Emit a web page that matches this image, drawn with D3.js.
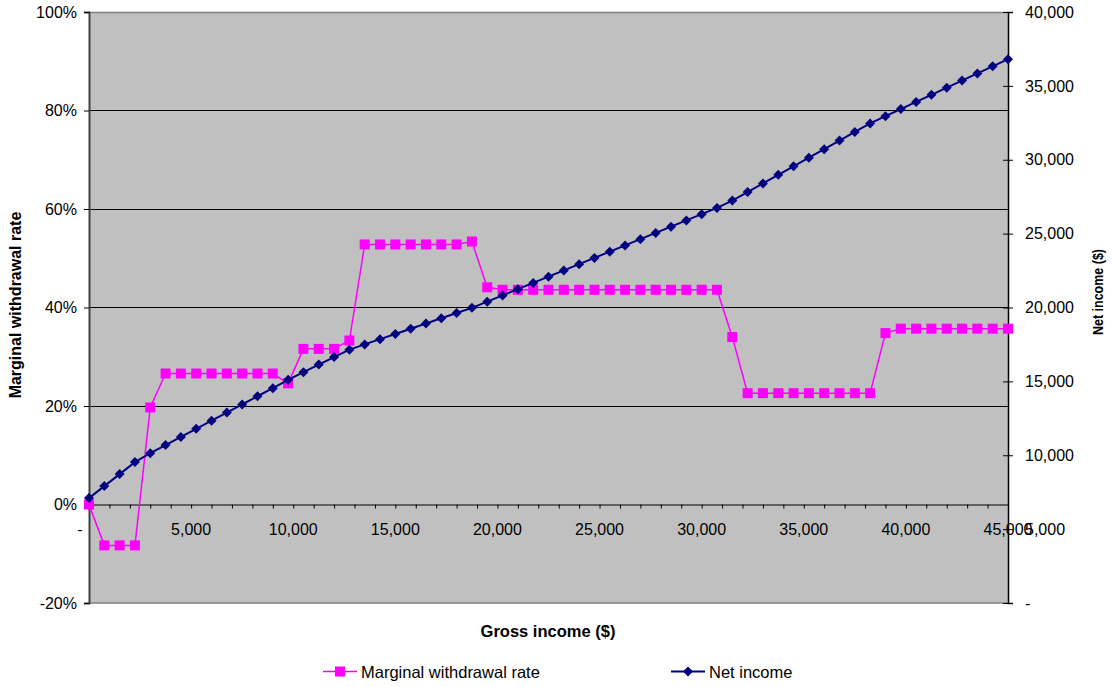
<!DOCTYPE html>
<html>
<head>
<meta charset="utf-8">
<script src="https://cdn.jsdelivr.net/npm/d3@7/dist/d3.min.js"></script>
<style>
  html, body { margin: 0; padding: 0; background: #fff; }
  svg { display: block; font-family: "Liberation Sans", Arial, sans-serif; }
</style>
</head>
<body>
<svg id="chart" width="1114" height="687"></svg>
<script>
// ---- Data ----
const grossIncome = [0, 750, 1500, 2250, 3000, 3750, 4500, 5250, 6000, 6750,
  7500, 8250, 9000, 9750, 10500, 11250, 12000, 12750, 13500, 14250,
  15000, 15750, 16500, 17250, 18000, 18750, 19500, 20250, 21000, 21750,
  22500, 23250, 24000, 24750, 25500, 26250, 27000, 27750, 28500, 29250,
  30000, 30750, 31500, 32250, 33000, 33750, 34500, 35250, 36000, 36750,
  37500, 38250, 39000, 39750, 40500, 41250, 42000, 42750, 43500, 44250, 45000];

const marginalRate = [0.000, -0.083, -0.083, -0.083, 0.197, 0.266, 0.266, 0.266, 0.266, 0.266,
  0.266, 0.266, 0.266, 0.246, 0.316, 0.316, 0.316, 0.333, 0.528, 0.528,
  0.528, 0.528, 0.528, 0.528, 0.528, 0.534, 0.441, 0.436, 0.436, 0.436,
  0.436, 0.436, 0.436, 0.436, 0.436, 0.436, 0.436, 0.436, 0.436, 0.436,
  0.436, 0.436, 0.340, 0.226, 0.226, 0.226, 0.226, 0.226, 0.226, 0.226,
  0.226, 0.226, 0.348, 0.357, 0.357, 0.357, 0.357, 0.357, 0.357, 0.357, 0.357];

const netIncome = [7100, 7912, 8724, 9537, 10139, 10690, 11240, 11791, 12341, 12892,
  13442, 13993, 14543, 15109, 15622, 16135, 16648, 17148, 17502, 17856,
  18210, 18564, 18918, 19272, 19626, 19976, 20395, 20818, 21241, 21664,
  22087, 22510, 22933, 23356, 23779, 24202, 24625, 25048, 25471, 25894,
  26317, 26740, 27235, 27816, 28396, 28977, 29557, 30138, 30718, 31299,
  31879, 32460, 32949, 33431, 33913, 34395, 34877, 35359, 35841, 36323, 36805];

const xTickValues = [0, 5000, 10000, 15000, 20000, 25000, 30000, 35000, 40000, 45000];
const xTickLabels = ["-", "5,000", "10,000", "15,000", "20,000", "25,000", "30,000", "35,000", "40,000", "45,000"];
const leftTickValues = [-0.2, 0, 0.2, 0.4, 0.6, 0.8, 1.0];
const leftTickLabels = ["-20%", "0%", "20%", "40%", "60%", "80%", "100%"];
const rightTickValues = [0, 5000, 10000, 15000, 20000, 25000, 30000, 35000, 40000];
const rightTickLabels = ["-", "5,000", "10,000", "15,000", "20,000", "25,000", "30,000", "35,000", "40,000"];
const seriesNames = ["Marginal withdrawal rate", "Net income"];
const xTitle = "Gross income ($)";
const leftTitle = "Marginal withdrawal rate";
const rightTitle = "Net income ($)";

// ---- Layout ----
const L = 89, R = 1008, T = 12, B = 603;
const svg = d3.select("#chart");

const x = d3.scaleLinear().domain([0, 45000]).range([L, R]);
const yL = d3.scaleLinear().domain([-0.2, 1.0]).range([B, T]);
const yR = d3.scaleLinear().domain([0, 40000]).range([B, T]);

const magenta = "#FF00FF", navy = "#000080";
const tickFont = 16;

// Plot area
svg.append("rect").attr("x", L).attr("y", T).attr("width", R - L).attr("height", B - T)
  .attr("fill", "#C0C0C0");

// gridlines
svg.append("g").selectAll("line").data([0.2, 0.4, 0.6, 0.8]).join("line")
  .attr("x1", L).attr("x2", R).attr("y1", d => yL(d)).attr("y2", d => yL(d))
  .attr("stroke", "#000").attr("stroke-width", 1).attr("shape-rendering", "crispEdges");

// top & bottom borders
svg.append("line").attr("x1", L).attr("x2", R).attr("y1", T + 0.5).attr("y2", T + 0.5)
  .attr("stroke", "#808080").attr("stroke-width", 1.5);
svg.append("line").attr("x1", L).attr("x2", R).attr("y1", B).attr("y2", B)
  .attr("stroke", "#808080").attr("stroke-width", 1.5);

// Left axis
const leftAxis = d3.axisLeft(yL).tickValues(leftTickValues)
  .tickFormat((d, i) => leftTickLabels[i]).tickSize(5).tickPadding(7);
const gL = svg.append("g").attr("transform", `translate(${L},0)`).call(leftAxis);
gL.select(".domain").attr("stroke", "#404040").attr("stroke-width", 2);
gL.selectAll(".tick line").attr("stroke", "#000");
gL.selectAll(".tick text").attr("font-size", tickFont).attr("font-family", "Liberation Sans, Arial, sans-serif").attr("fill", "#000");

// Right axis
const rightAxis = d3.axisRight(yR).tickValues(rightTickValues)
  .tickFormat((d, i) => rightTickLabels[i]).tickSize(5).tickPadding(12);
const gR = svg.append("g").attr("transform", `translate(${R},0)`).call(rightAxis);
gR.select(".domain").attr("stroke", "#000").attr("stroke-width", 1.5);
gR.selectAll(".tick line").attr("stroke", "#000").attr("x1", -5).attr("x2", 5);
gR.selectAll(".tick text").attr("font-size", tickFont).attr("font-family", "Liberation Sans, Arial, sans-serif").attr("fill", "#000");
gR.selectAll(".tick text").filter((d, i) => i === 0).attr("x", 17);

// X axis at 0%
const xMinor = d3.range(0, 45001, 1000);
const xAxis = d3.axisBottom(x).tickValues(xMinor).tickFormat("").tickSize(4).tickSizeOuter(0);
const gX = svg.append("g").attr("transform", `translate(0,${yL(0)})`).call(xAxis);
gX.select(".domain").attr("stroke", "#000").attr("stroke-width", 1.2);
gX.selectAll(".tick line").attr("stroke", "#000");
svg.append("g").selectAll("text").data(xTickValues).join("text")
  .attr("x", (d, i) => i === 0 ? x(d) - 9 : x(d))
  .attr("y", yL(0) + 30)
  .attr("text-anchor", "middle")
  .attr("font-size", tickFont)
  .attr("fill", "#000")
  .text((d, i) => xTickLabels[i]);

// Series: marginal rate
const lineL = d3.line().x((d, i) => x(grossIncome[i])).y(d => yL(d));
svg.append("path").datum(marginalRate).attr("d", lineL)
  .attr("fill", "none").attr("stroke", magenta).attr("stroke-width", 1.5);
svg.append("g").selectAll("rect").data(marginalRate).join("rect")
  .attr("x", (d, i) => x(grossIncome[i]) - 5).attr("y", d => yL(d) - 5)
  .attr("width", 10).attr("height", 10).attr("fill", magenta);

// Series: net income
const lineR = d3.line().x((d, i) => x(grossIncome[i])).y(d => yR(d));
svg.append("path").datum(netIncome).attr("d", lineR)
  .attr("fill", "none").attr("stroke", navy).attr("stroke-width", 2);
const diamond = (cx, cy, r) => `M${cx},${cy - r}L${cx + r},${cy}L${cx},${cy + r}L${cx - r},${cy}Z`;
svg.append("g").selectAll("path").data(netIncome).join("path")
  .attr("d", (d, i) => diamond(x(grossIncome[i]), yR(d), 5))
  .attr("fill", navy);

// Axis titles
svg.append("text").attr("x", 548).attr("y", 637).attr("text-anchor", "middle")
  .attr("font-size", 16.5).attr("font-weight", "bold").text(xTitle);
svg.append("text").attr("transform", `translate(21,305) rotate(-90)`).attr("text-anchor", "middle")
  .attr("font-size", 16).attr("font-weight", "bold").text(leftTitle);
svg.append("text").attr("transform", `translate(1103,292) rotate(-90)`).attr("text-anchor", "middle")
  .attr("font-size", 14).attr("font-weight", "bold")
  .attr("textLength", 86).attr("lengthAdjust", "spacingAndGlyphs").text(rightTitle);

// Legend
const legendItems = [
  { name: seriesNames[0], color: magenta, x0: 323, marker: "square", width: 1.5 },
  { name: seriesNames[1], color: navy, x0: 671, marker: "diamond", width: 2 }
];
const lg = svg.append("g");
legendItems.forEach(it => {
  const cy = 671.5;
  lg.append("line").attr("x1", it.x0).attr("x2", it.x0 + 34).attr("y1", cy).attr("y2", cy)
    .attr("stroke", it.color).attr("stroke-width", it.width);
  if (it.marker === "square") {
    lg.append("rect").attr("x", it.x0 + 17 - 5).attr("y", cy - 5).attr("width", 10).attr("height", 10).attr("fill", it.color);
  } else {
    lg.append("path").attr("d", diamond(it.x0 + 17, cy, 5)).attr("fill", it.color);
  }
  lg.append("text").attr("x", it.x0 + 38).attr("y", cy + 6).attr("font-size", 16.5).attr("fill", "#000").text(it.name);
});
</script>
</body>
</html>
